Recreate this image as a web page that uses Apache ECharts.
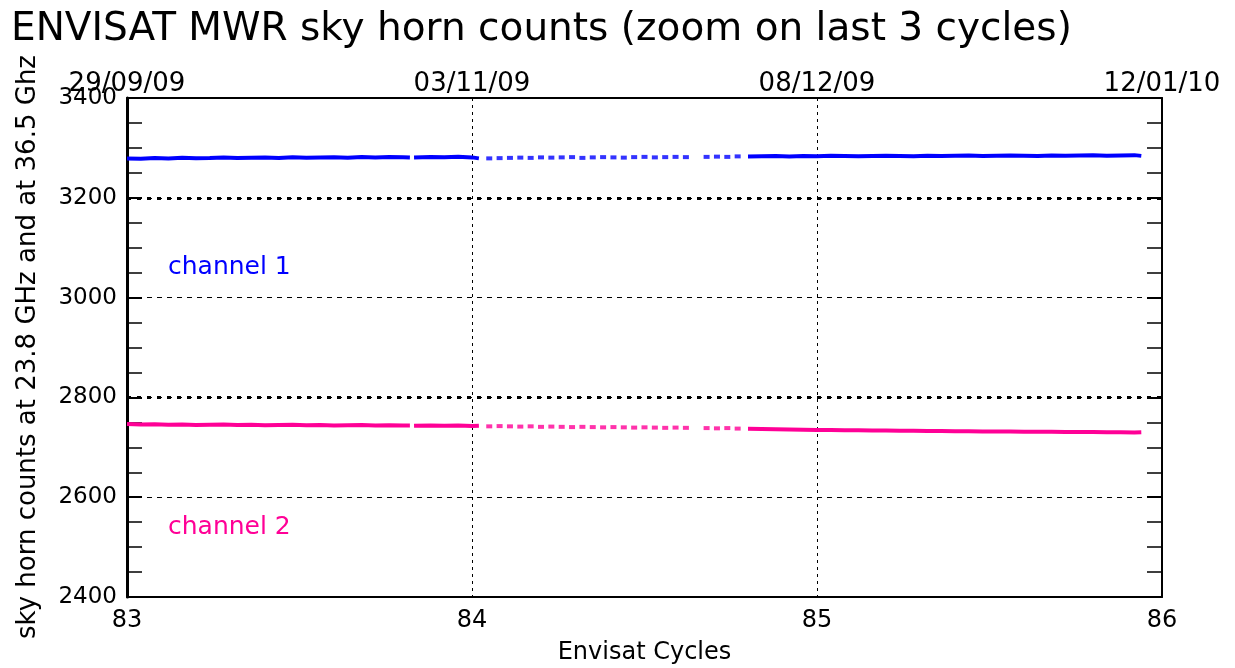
<!DOCTYPE html>
<html>
<head>
<meta charset="utf-8">
<script src="https://cdn.jsdelivr.net/npm/echarts@6/dist/echarts.min.js"></script>
<style>html,body{margin:0;padding:0;background:#fff}#c{width:1235px;height:668px}</style>
</head>
<body>
<div id="c"></div>
<script>
// ---- data ----
const cycleTicks = [83, 84, 85, 86];
const dateLabels = ['29/09/09', '03/11/09', '08/12/09', '12/01/10'];
const yTicks = [2400, 2600, 2800, 3000, 3200, 3400];
const boldGridLevels = [3200, 2800];

// dense segment before cycle 84 (null = data gap)
const cycA = [83.00,83.04,83.08,83.12,83.16,83.20,83.24,83.28,83.32,83.36,83.40,83.44,83.48,83.52,83.56,83.60,83.64,83.68,83.72,83.76,83.80,83.82,83.826,83.832,83.88,83.92,83.96,84.00,84.02];
const ch1A = [3279,3278.5,3280,3279,3280.5,3279.5,3280,3281,3280,3280.5,3281,3280,3281.5,3280.5,3281,3281.5,3280.5,3282,3281,3282,3281.5,3281,null,3281,3282,3281.5,3282.5,3281,3279];
const ch2A = [2746.5,2745.5,2746,2745,2745.5,2744.5,2745,2745.5,2744.5,2745,2744,2744.5,2745,2744,2744.5,2743.5,2744,2744.5,2743.5,2744,2743.5,2743.5,null,2743,2743.5,2743,2743.5,2742.5,2743];

// sparse samples in cycle 84
const cycB = [84.05,84.08,84.11,84.14,84.17,84.20,84.23,84.26,84.29,84.32,84.35,84.38,84.41,84.44,84.47,84.50,84.53,84.56,84.59,84.62,84.68,84.71,84.74,84.77];
const ch1B = [3279,3279.5,3280,3280.5,3280,3281,3280.5,3281,3281.5,3280,3281,3281.5,3281,3280.5,3281.5,3282,3281,3281.5,3282,3281.5,3282,3282.5,3282,3283];
const ch2B = [2742,2742.5,2742,2741.5,2742,2741,2741.5,2741,2740.5,2741,2740.5,2740,2740.5,2740,2739.5,2740,2739.5,2739,2739.5,2739,2738.5,2738,2738.5,2737.5];

// dense segment from end of cycle 84 to end of 85
const cycC = [84.80,84.84,84.88,84.92,84.96,85.00,85.04,85.08,85.12,85.16,85.20,85.24,85.28,85.32,85.36,85.40,85.44,85.48,85.52,85.56,85.60,85.64,85.68,85.72,85.76,85.80,85.84,85.88,85.92,85.94];
const ch1C = [3283,3283.5,3284,3283,3284,3283.5,3284.5,3284,3283.5,3284,3284.5,3284,3283.5,3284.5,3284,3284.5,3285,3284,3284.5,3285,3284.5,3284,3285,3284.5,3285,3285.5,3284.5,3285,3285.5,3284];
const ch2C = [2737,2736.5,2736,2735.5,2735,2734.5,2734.5,2734,2734,2733.5,2733.5,2733,2733,2732.5,2732.5,2732,2732,2731.5,2731.5,2731.5,2731,2731,2731,2730.5,2730.5,2730.5,2730,2730,2729.5,2730];

const seriesLabels = ['channel 1', 'channel 2'];
const titleText = 'ENVISAT MWR sky horn counts (zoom on last 3 cycles)';
const xName = 'Envisat Cycles';
const yName = 'sky horn counts at 23.8 GHz and at 36.5 Ghz';

// ---- chart ----
const BLUE = '#0000ff', PINK = '#ff0096';
const FONT = 'DejaVu Sans';
const zip = (xs, ys) => xs.map((x, i) => [x, ys[i]]);

const chart = echarts.init(document.getElementById('c'), null, {renderer: 'canvas'});
const axisLineStyle = {color: '#000', width: 2};

chart.setOption({
  animation: false,
  backgroundColor: '#fff',
  textStyle: {fontFamily: FONT},
  title: {
    text: titleText, left: 6, top: 5,
    textStyle: {fontFamily: FONT, fontSize: 39, fontWeight: 'normal', color: '#000'}
  },
  grid: {left: 127, right: 73, top: 98, bottom: 71, containLabel: false, outerBoundsMode: 'none'},
  xAxis: [{
    type: 'value', min: cycleTicks[0], max: cycleTicks[cycleTicks.length - 1], interval: 1,
    position: 'bottom',
    name: xName, nameLocation: 'middle', nameGap: 44,
    nameTextStyle: {fontSize: 24, color: '#000', fontFamily: FONT},
    axisLine: {show: true, lineStyle: axisLineStyle},
    axisTick: {show: false},
    axisLabel: {fontSize: 24, color: '#000', margin: 12, formatter: v => String(v)},
    splitLine: {show: true, lineStyle: {color: '#000', width: 1, type: [3, 4]}}
  }, {
    type: 'value', min: cycleTicks[0], max: cycleTicks[cycleTicks.length - 1], interval: 1,
    position: 'top',
    axisLine: {show: true, lineStyle: axisLineStyle},
    axisTick: {show: false},
    axisLabel: {fontSize: 26, color: '#000', margin: 1,
      formatter: v => dateLabels[cycleTicks.indexOf(Math.round(v))] || ''},
    splitLine: {show: false}
  }],
  yAxis: [{
    type: 'value', min: yTicks[0], max: yTicks[yTicks.length - 1], interval: 200,
    position: 'left',
    axisLine: {show: true, lineStyle: {color: '#000', width: 3}},
    axisTick: {show: true, inside: true, length: 15, lineStyle: {color: '#000', width: 2}},
    minorTick: {show: true, splitNumber: 4, length: 15, lineStyle: {color: '#000', width: 1.5}},
    axisLabel: {fontSize: 23, color: '#000', margin: 10, formatter: v => String(v)},
    splitLine: {show: true, lineStyle: {color: '#000', width: 1, type: [5, 5]}}
  }, {
    type: 'value', min: yTicks[0], max: yTicks[yTicks.length - 1], interval: 200,
    position: 'right',
    axisLine: {show: true, lineStyle: axisLineStyle},
    axisTick: {show: true, inside: true, length: 15, lineStyle: {color: '#000', width: 2}},
    minorTick: {show: true, splitNumber: 4, length: 15, lineStyle: {color: '#000', width: 1.5}},
    axisLabel: {show: false},
    splitLine: {show: false}
  }],
  graphic: [{
    type: 'text', x: 28, y: 347, rotation: Math.PI / 2,
    style: {text: yName, fontSize: 26, fontFamily: FONT, fill: '#000', align: 'center', verticalAlign: 'middle'}
  }, {
    type: 'text', left: 168, top: 255,
    style: {text: seriesLabels[0], fontSize: 25, fontFamily: FONT, fill: BLUE}
  }, {
    type: 'text', left: 168, top: 515,
    style: {text: seriesLabels[1], fontSize: 25, fontFamily: FONT, fill: PINK}
  }],
  series: [
    {type: 'line', name: 'grid', data: [], silent: true,
     markLine: {silent: true, symbol: 'none', label: {show: false},
       lineStyle: {color: '#000', width: 3, type: [4, 6]},
       data: boldGridLevels.map(v => ({yAxis: v}))}},
    {type: 'line', data: zip(cycA, ch1A), showSymbol: false, connectNulls: false,
     lineStyle: {color: BLUE, width: 4}, itemStyle: {color: BLUE}, z: 5},
    {type: 'scatter', data: zip(cycB, ch1B), symbol: 'rect', symbolSize: [6, 4],
     itemStyle: {color: BLUE}, z: 5},
    {type: 'line', data: zip(cycC, ch1C), showSymbol: false,
     lineStyle: {color: BLUE, width: 4}, itemStyle: {color: BLUE}, z: 5},
    {type: 'line', data: zip(cycA, ch2A), showSymbol: false, connectNulls: false,
     lineStyle: {color: PINK, width: 4}, itemStyle: {color: PINK}, z: 5},
    {type: 'scatter', data: zip(cycB, ch2B), symbol: 'rect', symbolSize: [6, 4],
     itemStyle: {color: PINK}, z: 5},
    {type: 'line', data: zip(cycC, ch2C), showSymbol: false,
     lineStyle: {color: PINK, width: 4}, itemStyle: {color: PINK}, z: 5}
  ]
});
</script>
</body>
</html>
